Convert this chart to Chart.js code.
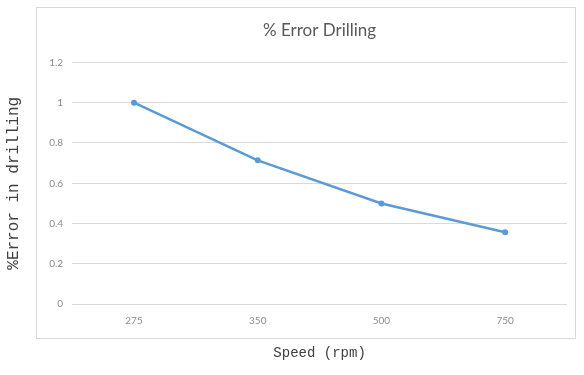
<!DOCTYPE html>
<html>
<head>
<meta charset="utf-8">
<script src="https://cdn.jsdelivr.net/npm/chart.js@4"></script>
<style>
  html, body { margin: 0; padding: 0; background: #fff; }
  #wrap { width: 584px; height: 375px; }
</style>
</head>
<body>
<div id="wrap"><canvas id="chart" width="584" height="375"></canvas></div>
<script>
const speeds = ['275', '350', '500', '750'];
const errorPct = [1.0, 0.714, 0.5, 0.357];
const yTicks = [0, 0.2, 0.4, 0.6, 0.8, 1, 1.2];

// light grey frame round the plot, like the spreadsheet chart area
const frame = {
  id: 'frame',
  beforeDraw(chart) {
    const a = chart.chartArea;
    const ctx = chart.ctx;
    ctx.save();
    ctx.strokeStyle = '#d9d9d9';
    ctx.lineWidth = 1;
    ctx.strokeRect(Math.round(a.left - 36) + 0.5, Math.round(a.top - 55) + 0.5,
      Math.round(a.right - a.left + 44), Math.round(a.bottom - a.top + 89));
    ctx.restore();
  }
};

new Chart(document.getElementById('chart').getContext('2d'), {
  type: 'line',
  data: {
    labels: speeds,
    datasets: [{
      label: '% Error Drilling',
      data: errorPct,
      borderColor: '#5b9bd5',
      backgroundColor: '#5b9bd5',
      borderWidth: 2.5,
      pointRadius: 3,
      pointBorderWidth: 0,
      tension: 0,
      fill: false,
    }]
  },
  options: {
    responsive: false,
    animation: false,
    layout: { padding: { left: 4, right: 17, top: 0, bottom: 13 } },
    plugins: {
      legend: { display: false },
      tooltip: { enabled: false },
      title: {
        display: true,
        text: '% Error Drilling',
        fullSize: false,
        color: '#595959',
        font: { family: 'Lato', size: 17, weight: 'normal' },
        padding: { top: 20, bottom: 22 }
      }
    },
    scales: {
      x: {
        offset: true,
        grid: { display: false, drawTicks: false },
        border: { display: false },
        ticks: { color: '#8c8c8c', font: { family: 'Lato', size: 10 }, padding: 11 },
        title: {
          display: true,
          text: 'Speed (rpm)',
          color: '#404040',
          font: { family: 'Liberation Mono', size: 14 },
          padding: { top: 7, bottom: 0 }
        }
      },
      y: {
        min: 0,
        max: 1.2,
        afterBuildTicks(axis) { axis.ticks = yTicks.map(v => ({ value: v })); },
        grid: { color: '#d9d9d9', drawTicks: false },
        border: { display: false },
        ticks: {
          color: '#8c8c8c',
          font: { family: 'Lato', size: 10 },
          padding: 9,
          callback: v => String(Math.round(v * 10) / 10)
        },
        title: {
          display: true,
          text: '%Error in drilling',
          color: '#404040',
          font: { family: 'Liberation Mono', size: 16 },
          padding: { top: 0, bottom: 17 }
        }
      }
    }
  },
  plugins: [frame]
});
</script>
</body>
</html>
